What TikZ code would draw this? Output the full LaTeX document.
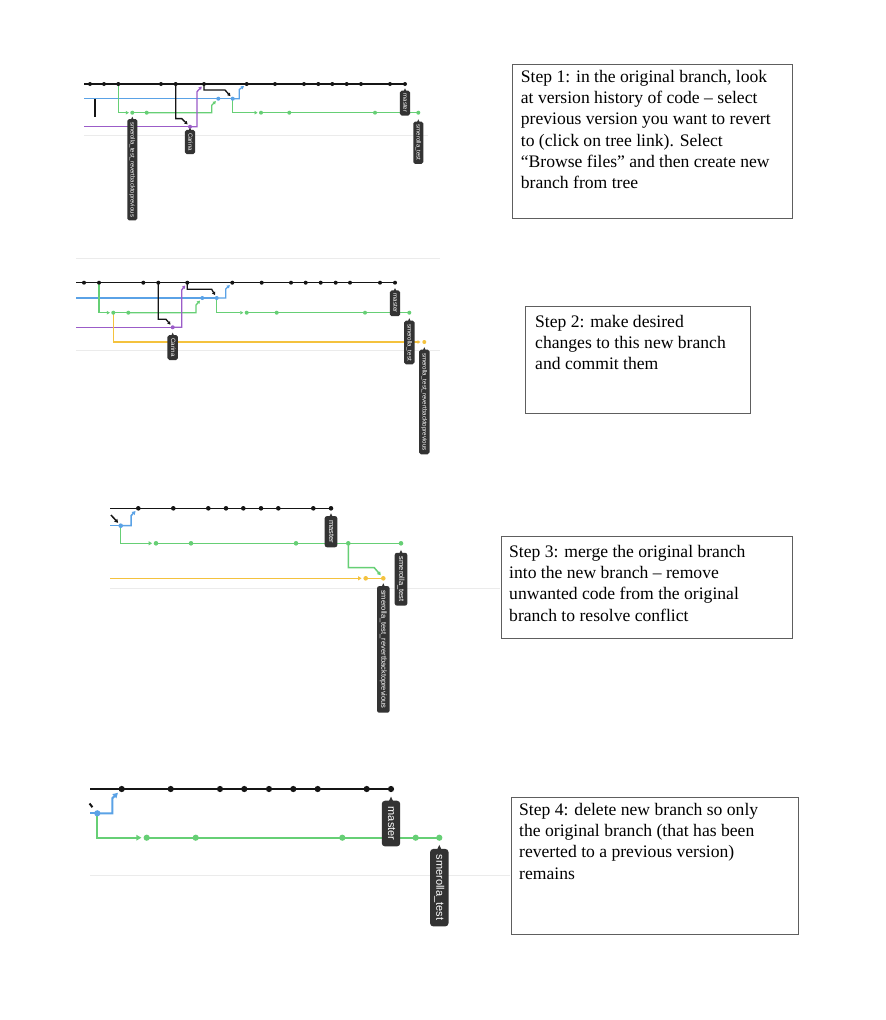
\documentclass[tikz,border=0pt]{standalone}
\usepackage{fontspec}
\setmainfont{Liberation Serif}
\setsansfont{Liberation Sans}
\usetikzlibrary{arrows.meta,calc}
\pgfdeclarelayer{bg}
\pgfsetlayers{bg,main}
\definecolor{blk}{HTML}{151515}
\definecolor{blu}{HTML}{5AA2E6}
\definecolor{grn}{HTML}{66CF75}
\definecolor{pur}{HTML}{9B5CC8}
\definecolor{yel}{HTML}{F4C23E}
\definecolor{gryl}{HTML}{EBEBEB}
\definecolor{tagc}{HTML}{333333}
\definecolor{boxc}{HTML}{5E5E5E}
\tikzset{
 dotS/.style={circle,inner sep=0pt,minimum size=4pt,fill=#1},
 dotM/.style={circle,inner sep=0pt,minimum size=4.6pt,fill=#1},
 dotL/.style={circle,inner sep=0pt,minimum size=6.2pt,fill=#1},
 lnS/.style={draw=#1,line width=1.3pt},
 lnM/.style={draw=#1,line width=1.5pt},
 lnL/.style={draw=#1,line width=2pt},
 arS/.style={-{Triangle[length=3pt,width=3.4pt]},shorten >=1.2pt},
 arM/.style={-{Triangle[length=3.5pt,width=4pt]},shorten >=1.4pt},
 arL/.style={-{Triangle[length=5pt,width=5.5pt]},shorten >=2pt},
 brtag/.style={fill=tagc,text=white,rotate=-90,anchor=west},
 grline/.style={draw=gryl,line width=1pt},
 stepbox/.style={draw=boxc,line width=1pt,anchor=north west,inner sep=0pt},
 steptext/.style={anchor=north west,inner sep=0pt,align=left,
   font=\fontsize{17.6}{21.2}\selectfont},
}
\newcommand\brtagat[5]{%
 \pgfmathsetmacro\tgxs{#3*0.55}%
 \pgfmathsetmacro\tgys{#3*0.38}%
 \pgfmathsetmacro\tgth{#3*0.72}%
 \pgfmathsetmacro\tgtd{#3*0.2}%
 \pgfmathsetmacro\tgrc{#3*0.3}%
 \node[brtag, font=\sffamily\fontsize{#3}{#3}\selectfont, inner xsep=\tgxs pt,
   inner ysep=\tgys pt, text height=\tgth pt, text depth=\tgtd pt,
   rounded corners=\tgrc pt] (#1) at ($(#2)+(0,#4)$) {#5};
 \fill[tagc] ($(#1.west)+(-0.3*#3,0.3*#3)$) -- ($(#1.west)+(0,-0.35*#3)$)
   -- ($(#1.west)+(0.3*#3,0.3*#3)$) -- cycle;
}
\begin{document}
\begin{tikzpicture}[x=1pt,y=-1pt]
\begin{pgfonlayer}{bg}
\fill[white] (0,0) rectangle (886,1020);
\end{pgfonlayer}
\useasboundingbox (0,0) rectangle (886,1020);

% ================= PANEL 1 =================
\coordinate (A-k0) at (84,84);
\foreach \i/\x in {1/90,2/104,3/118.3,4/161,5/175.7,6/204,7/246.7,8/275,9/304,10/318.3,11/332.3,12/346.7,13/361,14/390,15/405}
  \node[dotS=blk] (A-k\i) at (\x,84) {};
\coordinate (A-b0) at (84,98.7);
\node[dotS=blu] (A-b1) at (218.3,98.7) {};
\node[dotS=blu] (A-b2) at (232.7,98.7) {};
\coordinate (A-p0) at (84,126.7);
\node[dotS=pur] (A-p1) at (190,126.7) {};
\foreach \i/\x in {1/132.3,2/146.7,3/261,4/289.3,5/375,6/418.3}
  \node[dotS=grn] (A-g\i) at (\x,112.7) {};
\begin{pgfonlayer}{bg}
\draw[grline] (84,135) -- (428,135);
\draw[lnS=blk] (A-k0) -- (A-k15.center);
\draw[lnS=blu] (A-b0) -- (A-b2.center);
\draw[lnS=pur] (A-p0) -- (A-p1.center);
\draw[lnS=grn,arS] (A-k3.center) |- (A-g1);
\draw[lnS=grn] (A-g1.center) -- (A-g2.center);
\draw[lnS=grn,arS] (A-g2.center) -- ($(A-b1)+(-6.6,14)$) -- ($(A-b1)+(-6.6,6.6)$) -- (A-b1);
\draw[lnS=grn,arS] (A-b2.center) |- (A-g3);
\draw[lnS=grn] (A-g3.center) -- (A-g6.center);
\draw[lnS=blu,arS] (A-b2.center) -- ++(6.6,0) -- ++(0,-9.2) -- (A-k7);
\draw[lnS=pur,arS] (A-p1.center) -- ++(7,0) -- ++(0,-35) -- (A-k6);
\draw[lnS=blk,arS] (A-k5.center) -- ($(A-k5)+(0,34.6)$) -- ($(A-k5)+(6,34.6)$) -- (A-p1);
\draw[lnS=blk,arS] (A-k6.center) -- ($(A-k6)+(0,6)$) -- ($(A-k6)+(21,6)$) -- (A-b2);
\end{pgfonlayer}
\draw[blk,line width=1.8pt] (94.7,98.8) -- (94.7,117);
\brtagat{A-t1}{A-g1}{6}{6.1}{smerolla\_test\_revertbacktoprevious}
\brtagat{A-t2}{A-p1}{6}{3}{Carina}
\brtagat{A-t3}{A-k15}{6}{6.4}{master}
\brtagat{A-t4}{A-g6}{6}{8.7}{smerolla\_test}

% ================= PANEL 2 =================
\coordinate (B-k0) at (76,282.7);
\foreach \i/\x in {1/84,2/99,3/143.3,4/158.3,5/187.3,6/232.3,7/261.7,8/291,9/305.7,10/320.7,11/335.7,12/350,13/380,14/395}
  \node[dotS=blk] (B-k\i) at (\x,282.7) {};
\coordinate (B-b0) at (76,298);
\node[dotS=blu] (B-b1) at (202.3,298) {};
\node[dotS=blu] (B-b2) at (216.7,298) {};
\coordinate (B-p0) at (76,327.3);
\node[dotS=pur] (B-p1) at (172.7,327.3) {};
\foreach \i/\x in {1/113.3,2/128.3,3/246.7,4/276.7,5/365,6/409.3}
  \node[dotS=grn] (B-g\i) at (\x,312.7) {};
\node[dotS=yel] (B-y1) at (424.3,342) {};
\begin{pgfonlayer}{bg}
\draw[grline] (76,258.3) -- (440,258.3);
\draw[grline] (76,350.7) -- (440,350.7);
\draw[lnS=blk] (B-k0) -- (B-k14.center);
\draw[lnS=blu] (B-b0) -- (B-b2.center);
\draw[lnS=pur] (B-p0) -- (B-p1.center);
\draw[lnS=grn,arS] (B-k2.center) |- (B-g1);
\draw[lnS=grn] (B-g1.center) -- (B-g2.center);
\draw[lnS=grn,arS] (B-g2.center) -- ($(B-b1)+(-6.3,14.7)$) -- ($(B-b1)+(-6.3,7)$) -- (B-b1);
\draw[lnS=grn,arS] (B-b2.center) |- (B-g3);
\draw[lnS=grn] (B-g3.center) -- (B-g6.center);
\draw[lnS=yel,arS,shorten >=1.6pt] (B-g1.center) |- (B-y1);
\draw[lnS=blu,arS] (B-b2.center) -- ++(9,0) -- ++(0,-9) -- (B-k6);
\draw[lnS=pur,arS] (B-p1.center) -- ++(9,0) -- ++(0,-37.3) -- (B-k5);
\draw[lnS=blk,arS] (B-k4.center) -- ($(B-k4)+(0,36.6)$) -- ($(B-k4)+(7.7,36.6)$) -- (B-p1);
\draw[lnS=blk,arS] (B-k5.center) -- ($(B-k5)+(0,6.6)$) -- ($(B-k5)+(24.4,6.6)$) -- (B-b2);
\end{pgfonlayer}
\brtagat{B-t1}{B-p1}{6.2}{7.5}{Carina}
\brtagat{B-t2}{B-k14}{6.2}{7.5}{master}
\brtagat{B-t3}{B-g6}{6.2}{7.7}{smerolla\_test}
\brtagat{B-t4}{B-y1}{6.2}{7.4}{smerolla\_test\_revertbacktoprevious}

% ================= PANEL 3 =================
\coordinate (C-k0) at (110,508.3);
\foreach \i/\x in {1/138.3,2/173.3,3/208.3,4/226,5/243.3,6/261,7/278.3,8/313.3,9/331}
  \node[dotM=blk] (C-k\i) at (\x,508.3) {};
\coordinate (C-b0) at (110,525.7);
\node[dotM=blu] (C-b1) at (120.7,525.7) {};
\coordinate (C-t0) at (111,515);
\foreach \i/\x in {1/156,2/191,3/296,4/348.3,5/401}
  \node[dotM=grn] (C-g\i) at (\x,543.3) {};
\coordinate (C-y0) at (110,578.3);
\node[dotM=yel] (C-y1) at (365.7,578.3) {};
\node[dotM=yel] (C-y2) at (383.3,578.3) {};
\begin{pgfonlayer}{bg}
\draw[grline] (110,588.3) -- (500,588.3);
\draw[lnM=blk] (C-k0) -- (C-k9.center);
\draw[lnM=blu] (C-b0) -- (C-b1.center);
\draw[lnM=blk,arM] (C-t0) -- (C-b1);
\draw[lnM=blu,arM] (C-b1.center) -- ++(10.3,0) -- ++(0,-10) -- (C-k1);
\draw[lnM=grn,arM] (C-b1.center) |- (C-g1);
\draw[lnM=grn] (C-g1.center) -- (C-g5.center);
\draw[lnM=yel,arM,shorten >=1.6pt] (C-y0) -- (C-y1);
\draw[lnM=yel] (C-y1.center) -- (C-y2.center);
\draw[lnM=grn,arM] (C-g4.center) -- ($(C-g4)+(0,24.4)$) -- ($(C-g4)+(26,24.4)$) -- (C-y2);
\end{pgfonlayer}
\brtagat{C-t1}{C-k9}{7.5}{7.6}{master}
\brtagat{C-t2}{C-g5}{7.5}{9.3}{smerolla\_test}
\brtagat{C-t3}{C-y2}{7.5}{7.6}{smerolla\_test\_revertbacktoprevious}

% ================= PANEL 4 =================
\coordinate (D-k0) at (90,789);
\foreach \i/\x in {1/121.7,2/170.7,3/220,4/244.3,5/269,6/293.3,7/317.7,8/366.7,9/391}
  \node[dotL=blk] (D-k\i) at (\x,789) {};
\coordinate (D-b0) at (90,813.3);
\node[dotL=blu] (D-b1) at (97.3,813.3) {};
\coordinate (D-t0) at (89.5,803.5);
\foreach \i/\x in {1/146.7,2/195.7,3/342.3,4/415.7,5/439.3}
  \node[dotL=grn] (D-g\i) at (\x,837.7) {};
\begin{pgfonlayer}{bg}
\draw[grline] (90,875.7) -- (510,875.7);
\draw[lnL=blk] (D-k0) -- (D-k9.center);
\draw[lnL=blu] (D-b0) -- (D-b1.center);
\draw[lnL=blk,shorten >=4.5pt] (D-t0) -- (D-b1);
\draw[lnL=blu,arL] (D-b1.center) -- ++(15,0) -- ++(0,-15) -- (D-k1);
\draw[lnL=grn,arL] (D-b1.center) |- (D-g1);
\draw[lnL=grn] (D-g1.center) -- (D-g5.center);
\end{pgfonlayer}
\brtagat{D-t1}{D-k9}{11}{11.5}{master}
\brtagat{D-t2}{D-g5}{11}{11}{smerolla\_test}

% ================= TEXT BOXES =================
\node[stepbox,minimum width=280pt,minimum height=154pt] (s1box) at (511.7,64.3) {};
\node[steptext] (s1txt) at (520.7,70) {Step 1: in the original branch, look\\at version history of code – select\\previous version you want to revert\\to (click on tree link). Select\\“Browse files” and then create new\\branch from tree};
\node[stepbox,minimum width=225pt,minimum height=107pt] (s2box) at (525,306) {};
\node[steptext] (s2txt) at (535,315) {Step 2: make desired\\changes to this new branch\\and commit them};
\node[stepbox,minimum width=290.7pt,minimum height=102.3pt] (s3box) at (501,536) {};
\node[steptext] (s3txt) at (509,545) {Step 3: merge the original branch\\into the new branch – remove\\unwanted code from the original\\branch to resolve conflict};
\node[stepbox,minimum width=286.7pt,minimum height=136.7pt] (s4box) at (511,797.3) {};
\node[steptext] (s4txt) at (519,803) {Step 4: delete new branch so only\\the original branch (that has been\\reverted to a previous version)\\remains};
\end{tikzpicture}
\end{document}
